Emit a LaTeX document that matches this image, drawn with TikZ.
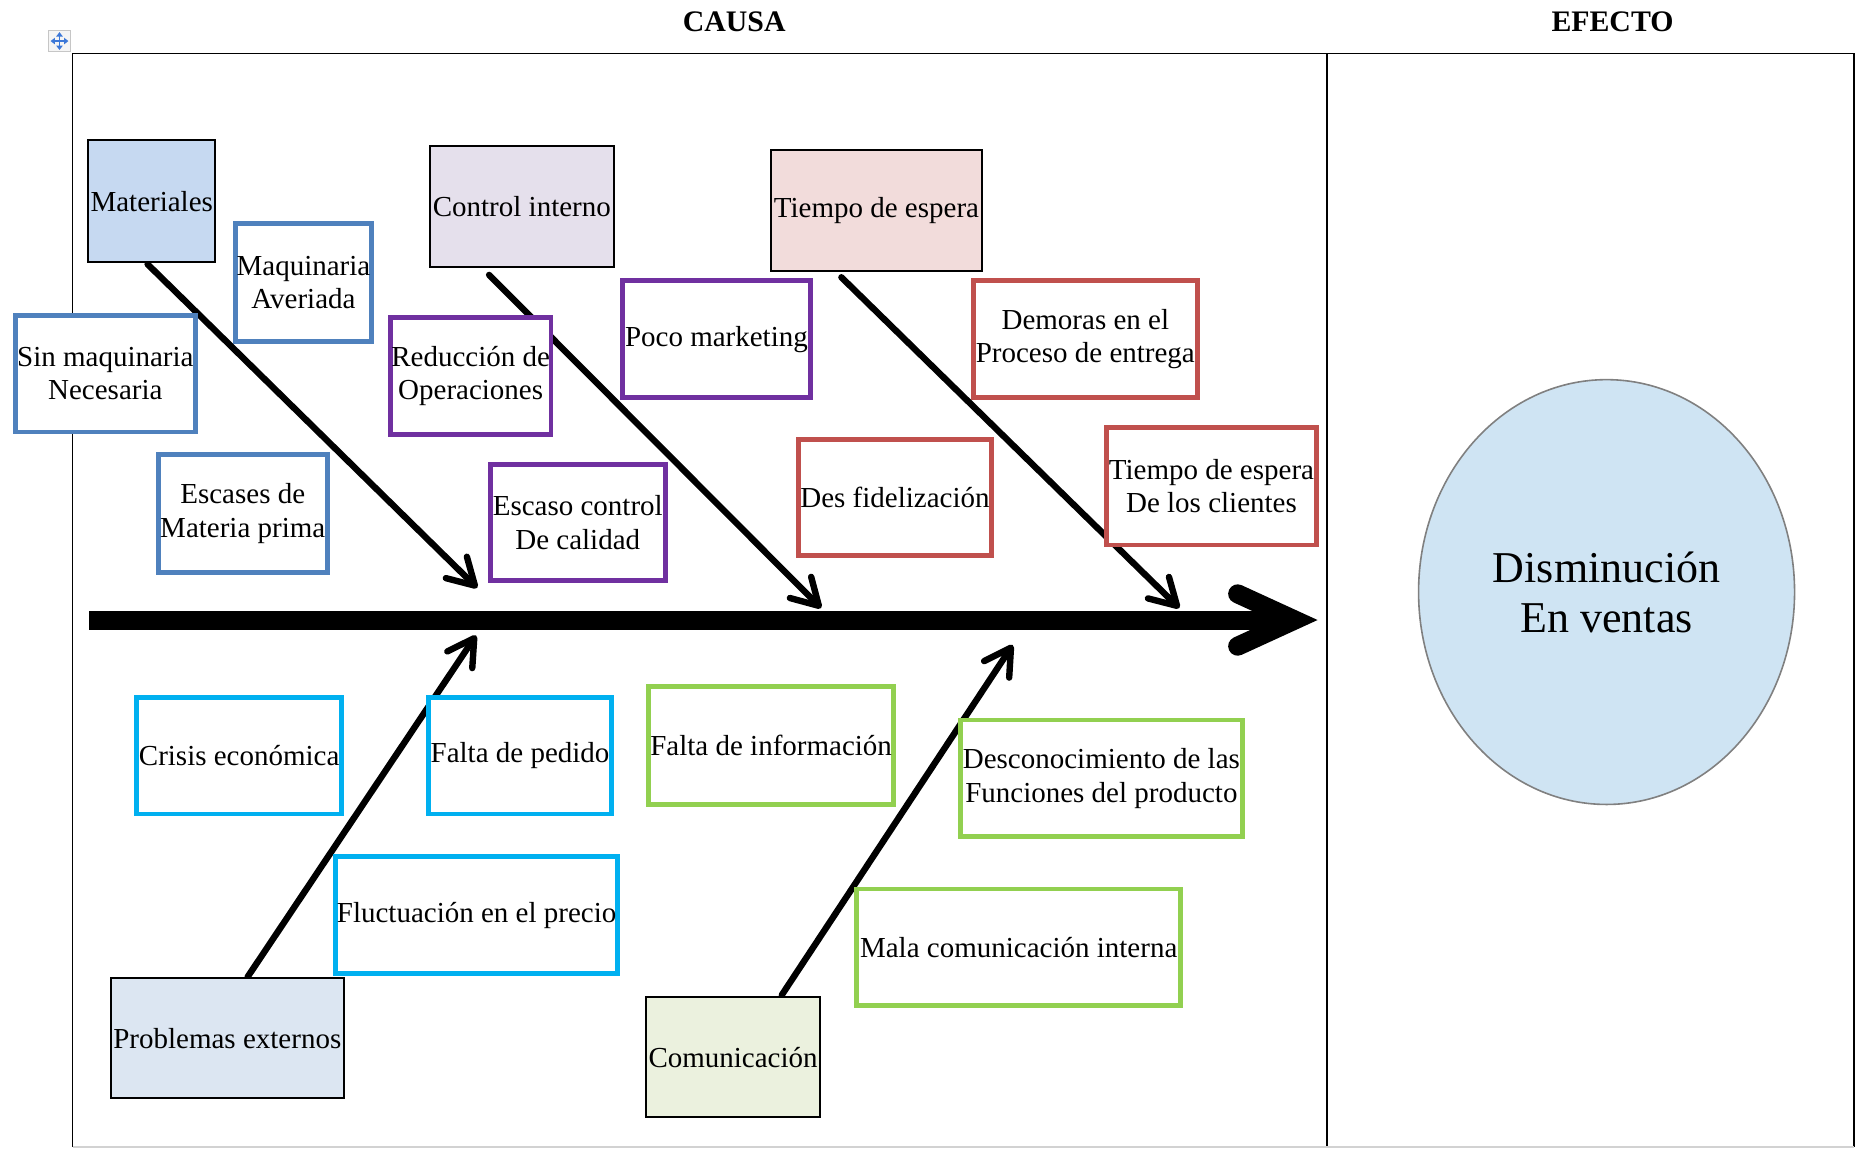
\documentclass[tikz,border=0pt]{standalone}
\usepackage{fontspec}
\setmainfont{Liberation Serif}
\usetikzlibrary{fit,arrows.meta,shapes.geometric,calc}
\definecolor{cblue}{HTML}{4F81BD}
\definecolor{cpurple}{HTML}{7030A0}
\definecolor{cred}{HTML}{C0504D}
\definecolor{ccyan}{HTML}{00B0F0}
\definecolor{cgreen}{HTML}{92D050}
\definecolor{fmat}{HTML}{C6D9F1}
\definecolor{fctrl}{HTML}{E5E0EC}
\definecolor{ftiempo}{HTML}{F2DCDB}
\definecolor{fprob}{HTML}{DCE6F2}
\definecolor{fcom}{HTML}{EBF1DE}
\definecolor{fell}{RGB}{207,228,243}
\definecolor{iconblue}{HTML}{3C78D8}
\begin{document}
\begin{tikzpicture}[x=0.595pt,y=-0.595pt,
  every node/.style={font=\fontsize{14.5}{16.8}\selectfont, align=center, inner sep=0pt},
  cbox/.style={draw=#1, fill=white, line width=2.4pt},
  hbox/.style={draw=black, fill=#1, line width=1pt},
  sz/.style 2 args={minimum width=#1*0.595pt, minimum height=#2*0.595pt},
  bone/.style={line width=3.2pt, line cap=round, -{Straight Barb[length=13pt,width=15pt,round]}},
  headtxt/.style={font=\bfseries\fontsize{14.9}{17}\selectfont},
  frameline/.style={line width=0.9pt}
]
\useasboundingbox (0,0) rectangle (1568,965);

% frame
\draw[frameline] (61,964) -- (61,45) -- (1558,45) -- (1558,964);
\draw[frameline] (1115,45) -- (1115,964);
\draw[frameline, gray!35] (61,964) -- (1558,964);

% headings
\node[headtxt] (causa) at (617,18) {CAUSA};
\node[headtxt] (efecto) at (1355,18) {EFECTO};

% table handle icon
\node[draw=gray!45, fill=gray!8, line width=0.6pt, sz={19}{18}] (handle) at (50,34.5) {};
\draw[iconblue, line width=0.9pt, {Triangle[length=2.2pt,width=3.2pt]}-{Triangle[length=2.2pt,width=3.2pt]}]
  ($(handle.center)+(-7.5,0)$) -- ($(handle.center)+(7.5,0)$);
\draw[iconblue, line width=0.9pt, {Triangle[length=2.2pt,width=3.2pt]}-{Triangle[length=2.2pt,width=3.2pt]}]
  ($(handle.center)+(0,-7.5)$) -- ($(handle.center)+(0,7.5)$);

% spine
\coordinate (s0) at (75,521);
\coordinate (sv) at (1088,521);
\coordinate (su) at (1040,499);
\coordinate (sl) at (1040,543);
\draw[line width=9.5pt] (s0) -- (sv);
\draw[line width=9.5pt, line cap=round, line join=miter, miter limit=20] (su) -- (sv) -- (sl);

% bone coordinates
\coordinate (a1) at (124,222); \coordinate (a2) at (401,494);
\coordinate (b1) at (411,231); \coordinate (b2) at (690,511);
\coordinate (c1) at (707,233); \coordinate (c2) at (991,511);
\coordinate (d1) at (208,821); \coordinate (d2) at (400,534);
\coordinate (e1) at (657,836); \coordinate (e2) at (851,542);
\draw[bone] (a1) -- (a2);
\draw[bone] (b1) -- (b2);
\draw[bone] (c1) -- (c2);
\draw[bone] (d1) -- (d2);
\draw[bone] (e1) -- (e2);

% upper group: Materiales
\node[hbox=fmat, sz={107}{102}] (mat) at (127.5,169) {Materiales};
\node[cbox=cblue, sz={114}{99}] (maq) at (255,237.5) {Maquinaria\\Averiada};
\node[cbox=cblue, sz={151}{98}] (sinm) at (88.5,314) {Sin maquinaria\\Necesaria};
\node[cbox=cblue, sz={142}{99}] (esc) at (204,431.5) {Escases de\\Materia prima};

% Control interno
\node[hbox=fctrl, sz={155}{101}] (ctrl) at (438.5,173.5) {Control interno};
\node[cbox=cpurple, sz={135}{98}] (red) at (395.5,316) {Reducción de\\Operaciones};
\node[cbox=cpurple, sz={158}{98}] (poco) at (602,285) {Poco marketing};
\node[cbox=cpurple, sz={147}{98}] (escc) at (485.5,439) {Escaso control\\De calidad};

% Tiempo de espera
\node[hbox=ftiempo, sz={177}{102}] (tiempo) at (736.5,177) {Tiempo de espera};
\node[cbox=cred, sz={188}{98}] (dem) at (912,285) {Demoras en el\\Proceso de entrega};
\node[cbox=cred, sz={162}{98}] (desf) at (752,418) {Des fidelización};
\node[cbox=cred, sz={176}{99}] (tcli) at (1018,408.5) {Tiempo de espera\\De los clientes};

% lower: Problemas externos
\node[cbox=ccyan, sz={172}{98}] (cris) at (201,635) {Crisis económica};
\node[cbox=ccyan, sz={154}{98}] (fped) at (437,635) {Falta de pedido};
\node[cbox=ccyan, sz={237}{98}] (fluc) at (400.5,769) {Fluctuación en el precio};
\node[hbox=fprob, sz={196}{101}] (prob) at (191,872.5) {Problemas externos};

% Comunicación
\node[cbox=cgreen, sz={206}{99}] (finf) at (648,626.5) {Falta de información};
\node[cbox=cgreen, sz={237}{98}] (desc) at (925.5,654) {Desconocimiento de las\\Funciones del producto};
\node[cbox=cgreen, sz={272}{98}] (mala) at (856,796) {Mala comunicación interna};
\node[hbox=fcom, sz={146}{101}] (com) at (616,888.5) {Comunicación};

% effect
\node[ellipse, draw=gray, fill=fell, line width=0.8pt, minimum width=188pt, minimum height=212.4pt,
      font=\fontsize{22}{25}\selectfont] (efe) at (1350,497.5) {Disminución\\En ventas};
\end{tikzpicture}
\end{document}
